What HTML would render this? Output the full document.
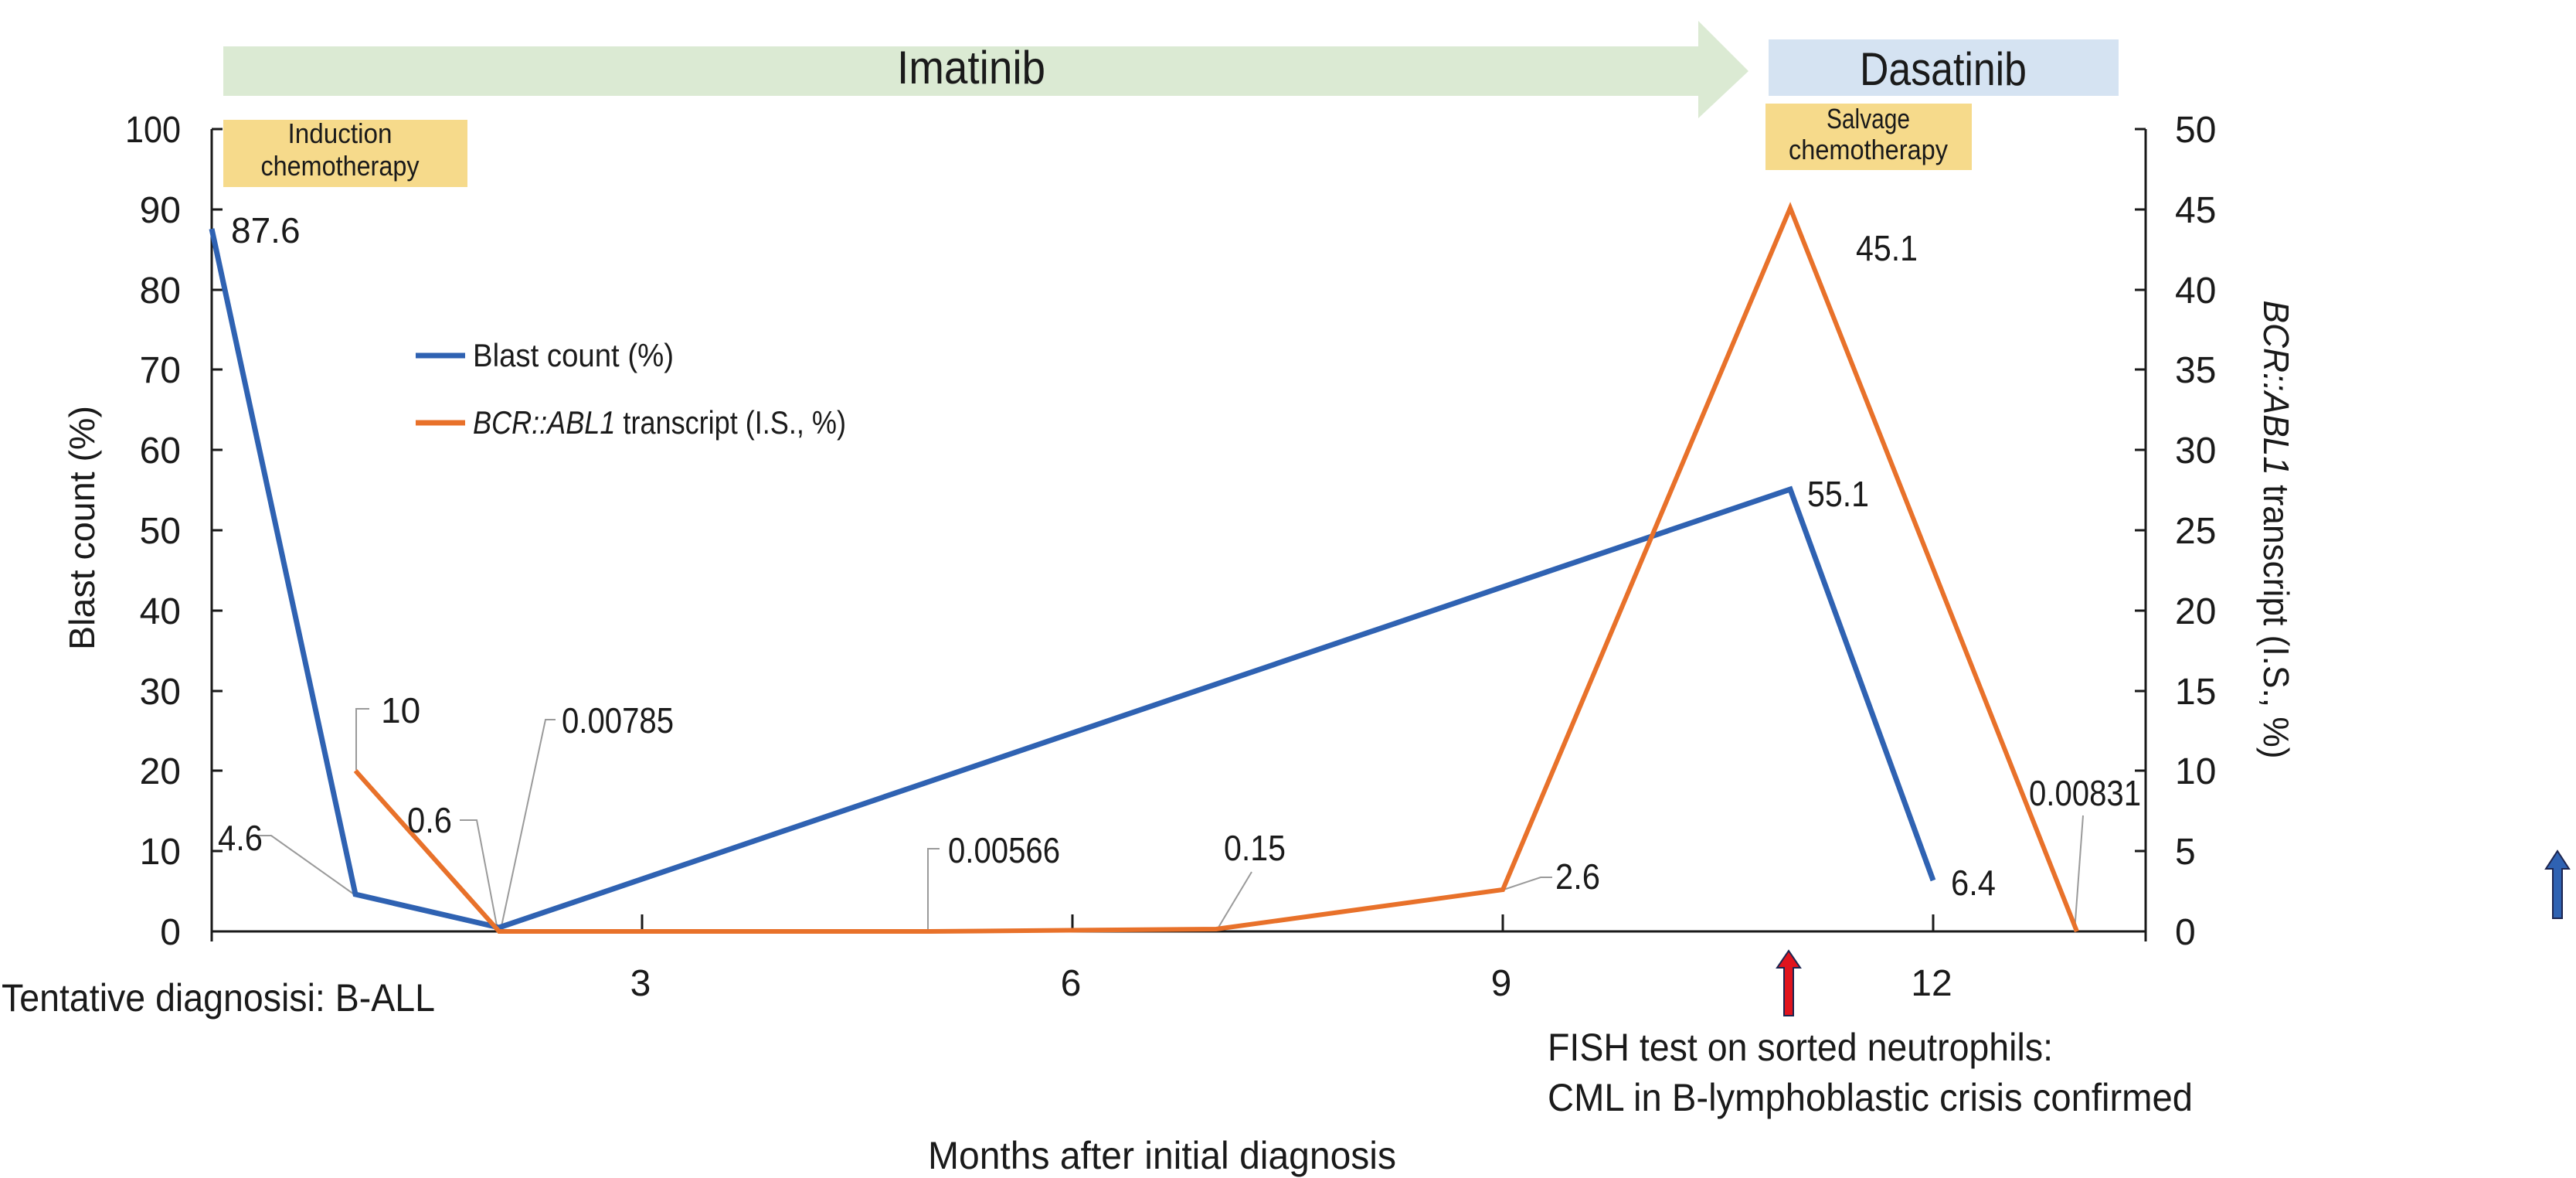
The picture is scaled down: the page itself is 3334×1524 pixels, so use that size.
<!DOCTYPE html>
<html><head><meta charset="utf-8"><style>
html,body{margin:0;padding:0;background:#fff;}
svg{display:block;font-family:"Liberation Sans",sans-serif;}
</style></head><body>
<svg width="3334" height="1524" viewBox="0 0 3334 1524" xmlns="http://www.w3.org/2000/svg">
<!-- top bands -->
<polygon points="289,60 2198,60 2198,27 2263,92 2198,153 2198,124 289,124" fill="#dbead3"/>
<text x="1257" y="108" font-size="60" text-anchor="middle" textLength="192" lengthAdjust="spacingAndGlyphs" fill="#1a1a1a">Imatinib</text>
<rect x="2289" y="51" width="453" height="73" fill="#d5e3f2"/>
<text x="2515" y="110" font-size="60" text-anchor="middle" textLength="216" lengthAdjust="spacingAndGlyphs" fill="#1a1a1a">Dasatinib</text>
<rect x="289" y="155" width="316" height="87" fill="#f6da8b"/>
<text x="440" y="185" font-size="36" text-anchor="middle" textLength="135" lengthAdjust="spacingAndGlyphs" fill="#1a1a1a">Induction</text>
<text x="440" y="227" font-size="36" text-anchor="middle" textLength="205" lengthAdjust="spacingAndGlyphs" fill="#1a1a1a">chemotherapy</text>
<rect x="2285" y="134" width="267" height="86" fill="#f6da8b"/>
<text x="2418" y="166" font-size="36" text-anchor="middle" textLength="108" lengthAdjust="spacingAndGlyphs" fill="#1a1a1a">Salvage</text>
<text x="2418" y="206" font-size="36" text-anchor="middle" textLength="206" lengthAdjust="spacingAndGlyphs" fill="#1a1a1a">chemotherapy</text>

<!-- axes -->
<g stroke="#1a1a1a" stroke-width="3" fill="none">
<line x1="274" y1="167" x2="274" y2="1218"/>
<line x1="274" y1="1205" x2="2777" y2="1205"/>
<line x1="2777" y1="167" x2="2777" y2="1218"/>
<path d="M274,167h14M274,271h14M274,375h14M274,478h14M274,582h14M274,686h14M274,790h14M274,894h14M274,997h14M274,1101h14"/>
<path d="M2777,167h-14M2777,271h-14M2777,375h-14M2777,478h-14M2777,582h-14M2777,686h-14M2777,790h-14M2777,894h-14M2777,997h-14M2777,1101h-14"/>
<path d="M831,1205v-22M1388,1205v-22M1945,1205v-22M2502,1205v-22"/>
</g>
<g font-size="48" fill="#1a1a1a" text-anchor="end">
<text x="234" y="184" textLength="72" lengthAdjust="spacingAndGlyphs">100</text>
<text x="234" y="288">90</text><text x="234" y="392">80</text><text x="234" y="495">70</text>
<text x="234" y="599">60</text><text x="234" y="703">50</text><text x="234" y="807">40</text>
<text x="234" y="911">30</text><text x="234" y="1014">20</text><text x="234" y="1118">10</text>
<text x="234" y="1222">0</text>
</g>
<g font-size="48" fill="#1a1a1a" text-anchor="start">
<text x="2815" y="184">50</text><text x="2815" y="288">45</text><text x="2815" y="392">40</text>
<text x="2815" y="495">35</text><text x="2815" y="599">30</text><text x="2815" y="703">25</text>
<text x="2815" y="807">20</text><text x="2815" y="911">15</text><text x="2815" y="1014">10</text>
<text x="2815" y="1118">5</text><text x="2815" y="1222">0</text>
</g>
<g font-size="48" fill="#1a1a1a" text-anchor="middle">
<text x="829" y="1288">3</text><text x="1386" y="1288">6</text><text x="1943" y="1288">9</text><text x="2500" y="1288">12</text>
</g>
<text transform="translate(122,683) rotate(-90)" font-size="46" text-anchor="middle" textLength="316" lengthAdjust="spacingAndGlyphs" fill="#1a1a1a">Blast count (%)</text>
<text transform="translate(2930,685) rotate(90)" font-size="46" text-anchor="middle" textLength="593" lengthAdjust="spacingAndGlyphs" fill="#1a1a1a"><tspan font-style="italic">BCR::ABL1</tspan> transcript (I.S., %)</text>

<!-- leader lines -->
<g stroke="#9a9a9a" stroke-width="2" fill="none">
<polyline points="461,1159 351,1081 330,1081"/>
<polyline points="461,996 461,917 478,917"/>
<polyline points="644,1203 617,1061 595,1061"/>
<polyline points="648,1203 706,931 719,931"/>
<polyline points="1201,1205 1201,1098 1216,1098"/>
<polyline points="1575,1203 1620,1128"/>
<polyline points="1943,1152 1994,1135 2009,1135"/>
<polyline points="2685,1205 2696,1055"/>
</g>
<!-- series -->
<polyline points="274,296 460,1157 646,1200 2317,633 2502,1139" fill="none" stroke="#2f62b2" stroke-width="7" stroke-linejoin="miter"/>
<polyline points="460,997 646,1205 1203,1205 1574,1202 1945,1151 2317,269 2688,1205" fill="none" stroke="#e8712a" stroke-width="6" stroke-linejoin="miter"/>
<!-- data labels -->
<g font-size="46" fill="#1a1a1a">
<text x="299" y="314">87.6</text>
<text x="493" y="935">10</text>
<text x="727" y="948" textLength="145" lengthAdjust="spacingAndGlyphs">0.00785</text>
<text x="282" y="1100" textLength="58" lengthAdjust="spacingAndGlyphs">4.6</text>
<text x="527" y="1077" textLength="58" lengthAdjust="spacingAndGlyphs">0.6</text>
<text x="1227" y="1116" textLength="145" lengthAdjust="spacingAndGlyphs">0.00566</text>
<text x="1584" y="1113" textLength="80" lengthAdjust="spacingAndGlyphs">0.15</text>
<text x="2013" y="1150" textLength="58" lengthAdjust="spacingAndGlyphs">2.6</text>
<text x="2402" y="337" textLength="80" lengthAdjust="spacingAndGlyphs">45.1</text>
<text x="2339" y="655" textLength="80" lengthAdjust="spacingAndGlyphs">55.1</text>
<text x="2525" y="1158" textLength="58" lengthAdjust="spacingAndGlyphs">6.4</text>
<text x="2626" y="1042" textLength="145" lengthAdjust="spacingAndGlyphs">0.00831</text>
</g>
<!-- legend -->
<line x1="538" y1="460" x2="602" y2="460" stroke="#2f62b2" stroke-width="7"/>
<text x="612" y="474" font-size="42" textLength="260" lengthAdjust="spacingAndGlyphs" fill="#1a1a1a">Blast count (%)</text>
<line x1="538" y1="547" x2="602" y2="547" stroke="#e8712a" stroke-width="7"/>
<text x="612" y="561" font-size="42" textLength="483" lengthAdjust="spacingAndGlyphs" fill="#1a1a1a"><tspan font-style="italic">BCR::ABL1</tspan> transcript (I.S., %)</text>
<!-- bottom text -->
<text x="2" y="1308" font-size="50" textLength="561" lengthAdjust="spacingAndGlyphs" fill="#1a1a1a">Tentative diagnosisi: B-ALL</text>
<text x="2003" y="1372" font-size="50" textLength="654" lengthAdjust="spacingAndGlyphs" fill="#1a1a1a">FISH test on sorted neutrophils:</text>
<text x="2003" y="1437" font-size="50" textLength="835" lengthAdjust="spacingAndGlyphs" fill="#1a1a1a">CML in B-lymphoblastic crisis confirmed</text>
<text x="1504" y="1512" font-size="50" text-anchor="middle" textLength="606" lengthAdjust="spacingAndGlyphs" fill="#1a1a1a">Months after initial diagnosis</text>
<!-- arrows -->
<polygon points="2309,1314 2309,1252 2300,1252 2315,1230 2330,1252 2321,1252 2321,1314" fill="#e0141e" stroke="#1d2550" stroke-width="2"/>
<polygon points="3304,1188 3304,1124 3295,1124 3310,1101 3325,1124 3316,1124 3316,1188" fill="#2f62b2" stroke="#1d2550" stroke-width="2"/>
</svg>
</body></html>
